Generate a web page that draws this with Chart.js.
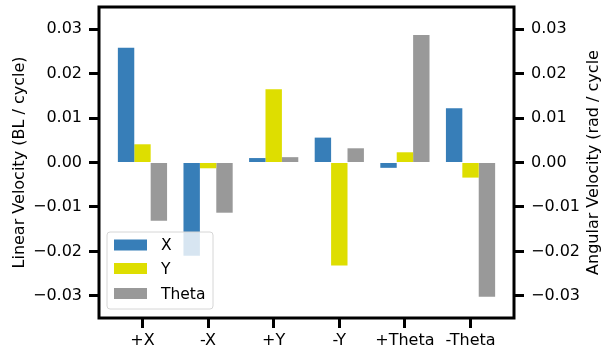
<!DOCTYPE html>
<html>
<head>
<meta charset="utf-8">
<script src="https://cdn.jsdelivr.net/npm/chart.js@4"></script>
<style>
  html, body { margin: 0; padding: 0; background: #fff; }
  #wrap { width: 607px; height: 348px; }
</style>
</head>
<body>
<div id="wrap"><canvas id="velChart" width="607" height="348"></canvas></div>
<script>
// du lieu doc tu hinh
const categories = ['+X', '-X', '+Y', '-Y', '+Theta', '-Theta'];
const xValues = [0.0258, -0.0210, 0.0010, 0.0056, -0.0012, 0.0122];
const yValues = [0.0041, -0.0013, 0.0165, -0.0232, 0.0023, -0.0034];
const thetaValues = [-0.0131, -0.0113, 0.0012, 0.0032, 0.0287, -0.0302];
const seriesNames = ['X', 'Y', 'Theta'];
const seriesColors = ['#377eb8', '#dede00', '#999999'];
const yTicks = [-0.03, -0.02, -0.01, 0.00, 0.01, 0.02, 0.03];

const FONT = 'DejaVu Sans';

function fmtTick(v) {
    if (Math.abs(v) < 1e-9) return '0.00';
    return (v < 0 ? '\u2212' : '') + Math.abs(v).toFixed(2);
}

function toPoints(arr) {
    return arr.map((v, i) => ({ x: i, y: v }));
}

// ve khung, chu thich va nhan truc
const framePlugin = {
    id: 'framePlugin',
    afterDatasetsDraw(chart) {
        const ctx = chart.ctx;
        const a = chart.chartArea;
        ctx.save();

        // chu thich (nen trang mo)
        const bx = 107, by = 232, bw = 106, bh = 77;
        ctx.beginPath();
        ctx.roundRect(bx, by, bw, bh, 3);
        ctx.fillStyle = 'rgba(255,255,255,0.8)';
        ctx.fill();
        ctx.strokeStyle = '#d6d6d6';
        ctx.lineWidth = 1;
        ctx.stroke();
        const rows = [245, 268.5, 293.5];
        ctx.font = '15.5px "' + FONT + '"';
        ctx.textBaseline = 'middle';
        ctx.textAlign = 'left';
        for (let i = 0; i < seriesNames.length; i++) {
            ctx.fillStyle = seriesColors[i];
            ctx.fillRect(114, rows[i] - 5.5, 33, 11);
            ctx.fillStyle = '#000';
            ctx.fillText(seriesNames[i], 161, rows[i] + 1);
        }

        // khung day
        ctx.strokeStyle = '#000';
        ctx.lineWidth = 3;
        ctx.strokeRect(a.left, a.top, a.right - a.left, a.bottom - a.top);

        // nhan truc y
        ctx.fillStyle = '#000';
        ctx.font = '16px "' + FONT + '"';
        ctx.textAlign = 'center';
        ctx.textBaseline = 'middle';
        const midY = (a.top + a.bottom) / 2;
        ctx.translate(20, midY);
        ctx.rotate(-Math.PI / 2);
        ctx.fillText('Linear Velocity (BL / cycle)', 0, 0);
        ctx.restore();

        ctx.save();
        ctx.fillStyle = '#000';
        ctx.font = '16px "' + FONT + '"';
        ctx.textAlign = 'center';
        ctx.textBaseline = 'middle';
        ctx.translate(594, midY);
        ctx.rotate(-Math.PI / 2);
        ctx.fillText('Angular Velocity (rad / cycle', 0, 0);
        ctx.restore();
    }
};

const tickGrid = {
    drawOnChartArea: false,
    drawTicks: true,
    offset: false,
    tickLength: 10,
    tickWidth: 3,
    tickColor: '#000'
};

function fixY(width) {
    return s => {
        s.width = width;
        s.paddingTop = 0;
        s.paddingBottom = 0;
    };
}

const ctxBar = document.getElementById('velChart').getContext('2d');
const barChart = new Chart(ctxBar, {
    type: 'bar',
    data: {
        datasets: [
            { label: seriesNames[0], data: toPoints(xValues), backgroundColor: seriesColors[0], yAxisID: 'y' },
            { label: seriesNames[1], data: toPoints(yValues), backgroundColor: seriesColors[1], yAxisID: 'y' },
            { label: seriesNames[2], data: toPoints(thetaValues), backgroundColor: seriesColors[2], yAxisID: 'y' }
        ]
    },
    options: {
        responsive: false,
        animation: false,
        devicePixelRatio: 1,
        categoryPercentage: 0.75,
        barPercentage: 1.0,
        layout: { padding: { top: 7, left: 0, right: 0, bottom: 0 } },
        plugins: {
            legend: { display: false },
            tooltip: { enabled: false }
        },
        scales: {
            x: {
                type: 'linear',
                offset: false,
                min: -0.6625,
                max: 5.6625,
                afterFit: s => { s.height = 30; s.paddingLeft = 0; s.paddingRight = 0; },
                border: { display: false },
                grid: tickGrid,
                ticks: {
                    stepSize: 1,
                    includeBounds: false,
                    padding: 3,
                    color: '#000',
                    font: { family: FONT, size: 16 },
                    maxRotation: 0,
                    callback: v => Number.isInteger(v) ? categories[v] : null
                }
            },
            y: {
                position: 'left',
                min: -0.035,
                max: 0.035,
                afterFit: fixY(99),
                afterBuildTicks: s => { s.ticks = yTicks.map(v => ({ value: v })); },
                border: { display: false },
                grid: tickGrid,
                ticks: {
                    padding: 7,
                    color: '#000',
                    font: { family: FONT, size: 16 },
                    callback: v => fmtTick(v)
                }
            },
            y1: {
                position: 'right',
                min: -0.035,
                max: 0.035,
                afterFit: fixY(93),
                afterBuildTicks: s => { s.ticks = yTicks.map(v => ({ value: v })); },
                border: { display: false },
                grid: tickGrid,
                ticks: {
                    padding: 7,
                    color: '#000',
                    font: { family: FONT, size: 16 },
                    callback: v => fmtTick(v)
                }
            }
        }
    },
    plugins: [framePlugin]
});
</script>
</body>
</html>
